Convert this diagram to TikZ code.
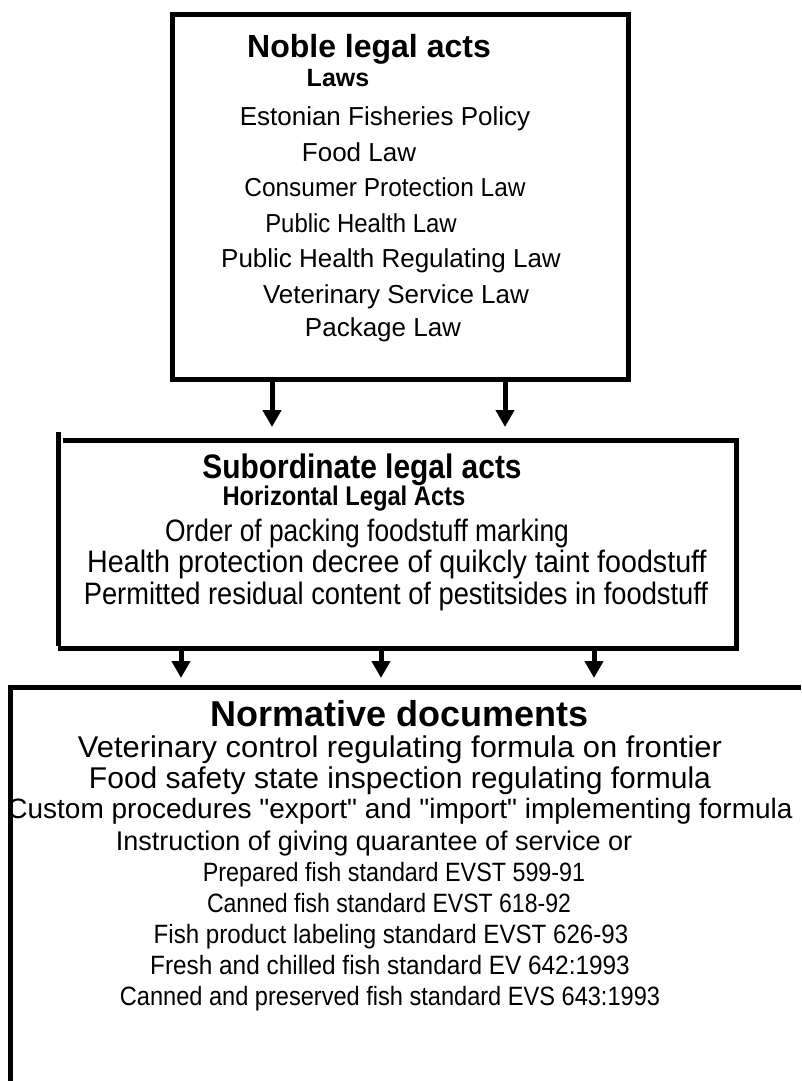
\documentclass[tikz,border=0pt]{standalone}
\usepackage{fontspec}
\setmainfont{Liberation Sans}[Ligatures=TeXOff]
\usetikzlibrary{arrows.meta}
\begin{document}
\begin{tikzpicture}[x=1pt,y=-1pt,
  frame/.style={line width=5pt},
  arr/.style={line width=5pt,-{Triangle[length=17pt,width=18pt]}},
  bigtitle/.style={font=\bfseries\fontsize{32}{38}\selectfont, inner sep=0, anchor=base},
  subtitle/.style={font=\bfseries\fontsize{25}{30}\selectfont, inner sep=0, anchor=base},
  item/.style={font=\fontsize{26}{31}\selectfont, inner sep=0, anchor=base},
  midtitle/.style={font=\bfseries\fontsize{34}{40}\selectfont, inner sep=0, anchor=base, xscale=0.88},
  midsub/.style={font=\bfseries\fontsize{27}{32}\selectfont, inner sep=0, anchor=base, xscale=0.88},
  miditem/.style={font=\fontsize{31}{36}\selectfont, inner sep=0, anchor=base},
  lowtitle/.style={font=\bfseries\fontsize{36}{42}\selectfont, inner sep=0, anchor=base},
  lowitem/.style={font=\fontsize{28}{33}\selectfont, inner sep=0, anchor=base},
  lowstd/.style={font=\fontsize{26.5}{31}\selectfont, inner sep=0, anchor=base}
]
\useasboundingbox (0,0) rectangle (801,1081);

% top box
\node[frame, draw, inner sep=0, minimum width=456pt, minimum height=364pt] (lawbox) at (400,197) {};
\node[bigtitle] (t0) at (369,58) {Noble legal acts};
\node[subtitle] (t1) at (338,86) {Laws};
\node[item] (t2) at (385,125) {Estonian Fisheries Policy};
\node[item] (t3) at (359,161) {Food Law};
\node[item, xscale=0.94] (t4) at (385,196) {Consumer Protection Law};
\node[item, xscale=0.92] (t5) at (361,232) {Public Health Law};
\node[item] (t6) at (391,267) {Public Health Regulating Law};
\node[item] (t7) at (396,303) {Veterinary Service Law};
\node[item] (t8) at (383,336) {Package Law};

% arrows top -> middle
\coordinate (a1s) at (272,379);
\coordinate (a1e) at (272,427);
\coordinate (a2s) at (505,379);
\coordinate (a2e) at (505,427);
\draw[arr] (a1s) -- (a1e);
\draw[arr] (a2s) -- (a2e);

% middle box
\coordinate (mtl) at (63,440);
\coordinate (mtr) at (736,440);
\coordinate (mbr) at (736,648);
\coordinate (mbl) at (58,648);
\coordinate (mlt) at (58,432);
\draw[frame] (mtl) -- (mtr) -- (mbr) -- (mbl);
\draw[frame] (mlt) -- ([yshift=2.5pt]mbl);
\node[midtitle] (m0) at (362,478) {Subordinate legal acts};
\node[midsub] (m1) at (344,505) {Horizontal Legal Acts};
\node[miditem, xscale=0.85] (m2) at (367,541) {Order of packing foodstuff marking};
\node[miditem, xscale=0.925] (m3) at (397,572) {Health protection decree of quikcly taint foodstuff};
\node[miditem, xscale=0.88] (m4) at (396,604) {Permitted residual content of pestitsides in foodstuff};

% arrows middle -> bottom
\coordinate (b1s) at (181,648);
\coordinate (b1e) at (181,678);
\coordinate (b2s) at (381,648);
\coordinate (b2e) at (381,678);
\coordinate (b3s) at (594,648);
\coordinate (b3e) at (594,678);
\draw[arr] (b1s) -- (b1e);
\draw[arr] (b2s) -- (b2e);
\draw[arr] (b3s) -- (b3e);

% bottom box (open)
\coordinate (ltr) at (801,687);
\coordinate (ltl) at (10,687);
\coordinate (lbl) at (10,1081);
\draw[frame] (ltr) -- (ltl) -- (lbl);
\node[lowtitle] (n0) at (400,726) {Normative documents};
\node[lowitem, font=\fontsize{30}{35}\selectfont, xscale=1.03] (n1) at (400,757) {Veterinary control regulating formula on frontier};
\node[lowitem, font=\fontsize{30}{35}\selectfont] (n2) at (400,788) {Food safety state inspection regulating formula};
\node[lowitem] (n3) at (400,818) {Custom procedures "export" and "import" implementing formula};
\node[lowitem, font=\fontsize{27}{32}\selectfont] (n4) at (374,850) {Instruction of giving quarantee of service or};
\node[lowstd, xscale=0.88] (n5) at (394,881) {Prepared fish standard EVST 599-91};
\node[lowstd, xscale=0.87] (n6) at (389,912) {Canned fish standard EVST 618-92};
\node[lowstd, xscale=0.91] (n7) at (391,943) {Fish product labeling standard EVST 626-93};
\node[lowstd, xscale=0.92] (n8) at (390,974) {Fresh and chilled fish standard EV 642:1993};
\node[lowstd, xscale=0.89] (n9) at (390,1005) {Canned and preserved fish standard EVS 643:1993};
\end{tikzpicture}
\end{document}
